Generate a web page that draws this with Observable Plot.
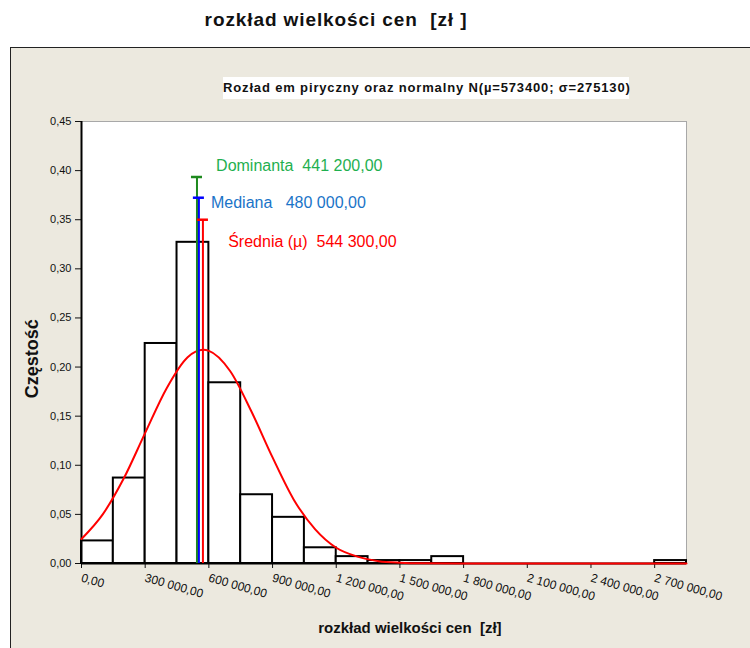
<!DOCTYPE html>
<html>
<head>
<meta charset="utf-8">
<script src="https://cdn.jsdelivr.net/npm/d3@7"></script>
<script src="https://cdn.jsdelivr.net/npm/@observablehq/plot@0.6"></script>
<style>
  body { margin:0; background:#fff; font-family:"Liberation Sans", Arial, sans-serif; }
  #wrap { position:relative; width:750px; height:648px; overflow:hidden; }
  #title { position:absolute; left:0; width:672px; top:9px; text-align:center; font-weight:bold; font-size:19px; letter-spacing:0.9px; color:#111; white-space:pre; }
  #frame { position:absolute; left:10px; top:47px; width:760px; height:620px; background:#ECE9DF; border:1.5px solid #222; box-sizing:border-box; }
  #subtitle { position:absolute; left:223px; top:77px; width:406px; height:22px; line-height:22px; background:#fff; text-align:center; font-weight:bold; font-size:13px; color:#111; letter-spacing:0.85px; white-space:pre; }
  #chart { position:absolute; left:0; top:47px; }
  #chart svg { background:transparent; overflow:visible; }
</style>
</head>
<body>
<div id="wrap">
  <div id="title">rozkład wielkości cen  [zł ]</div>
  <div id="frame"></div>
  <div id="subtitle">Rozład em piryczny oraz normalny N(µ=573400; σ=275130)</div>
  <div id="chart"></div>
</div>
<script>
// Histogram bins (zł) and empirical frequencies
const binStart = [0,150000,300000,450000,600000,750000,900000,1050000,1200000,1350000,1500000,1650000,1800000,1950000,2100000,2250000,2400000,2550000,2700000];
const binEnd   = [150000,300000,450000,600000,750000,900000,1050000,1200000,1350000,1500000,1650000,1800000,1950000,2100000,2250000,2400000,2550000,2700000,2850000];
const freq     = [0.023,0.087,0.224,0.327,0.184,0.070,0.047,0.016,0.007,0.003,0.003,0.007,0,0,0,0,0,0,0.003];

// Normal curve
const curveX = [0,100000,200000,300000,400000,500000,573400,600000,700000,800000,900000,1000000,1100000,1200000,1300000,1400000,1500000,1600000,1800000,2200000,2850000];
const curveY = [0.025,0.050,0.087,0.133,0.178,0.210,0.2175,0.2165,0.196,0.155,0.108,0.065,0.035,0.016,0.007,0.0024,0.0008,0.0002,0,0,0];

// Vertical markers (position as drawn, top height) and their labels
const markerNames = ["Dominanta", "Mediana", "Średnia (µ)"];
const markerX     = [544000, 553000, 572000];
const markerTop   = [0.3935, 0.3724, 0.350];
const markerLabel = ["Dominanta\u00a0\u00a0441 200,00", "Mediana\u00a0\u00a0\u00a0480 000,00", "Średnia (µ)\u00a0\u00a0544 300,00"];
const labelX      = [634000, 610000, 691000];
const labelY      = [0.405, 0.367, 0.3275];
const lineColors  = ["#1e8a1e", "#0000ff", "#ff0000"];
const textColors  = ["#1fb050", "#1a74c8", "#ff0000"];

const xTicks = [0,300000,600000,900000,1200000,1500000,1800000,2100000,2400000,2700000];
const yTicks = [0,0.05,0.10,0.15,0.20,0.25,0.30,0.35,0.40,0.45];

// Axis titles and where they sit (data units)
const yTitle = "Częstość";
const yTitleAt = 0.2085;
const xTitle = "rozkład wielkości cen\u00a0\u00a0[zł]";
const xTitleAt = 1547000;

const pl = d3.formatLocale({decimal:",", thousands:"\u00a0", grouping:[3], currency:["", " zł"]});
const fmt2 = pl.format(",.2f");

const bins = binStart.map((s,i) => ({x1:s, x2:binEnd[i], y:freq[i]}));
const curve = curveX.map((x,i) => ({x, y:curveY[i]}));
const markers = markerNames.map((n,i) => ({name:n, x:markerX[i], top:markerTop[i], label:markerLabel[i], lx:labelX[i], ly:labelY[i], lc:lineColors[i], tc:textColors[i]}));
const capHalf = 26000;

const chart = Plot.plot({
  width: 750,
  height: 601,
  marginLeft: 81,
  marginRight: 64,
  marginTop: 74,
  marginBottom: 85,
  style: {fontFamily: '"Liberation Sans", Arial, sans-serif', fontSize: "11px", color: "#111", background: "transparent"},
  x: {domain: [0, 2850000]},
  y: {domain: [0, 0.45]},
  marks: [
    Plot.frame({fill: "white", stroke: "#a8a8a8"}),
    Plot.axisY({ticks: yTicks, tickFormat: fmt2, tickSize: 6, tickPadding: 4, fontSize: 11, label: null}),
    Plot.axisX({ticks: xTicks, tickFormat: fmt2, tickSize: 5, tickPadding: 9, tickRotate: 16, fontSize: 12, label: null}),
    Plot.text([{t: yTitle, y: yTitleAt}], {text: "t", y: "y", frameAnchor: "left", textAnchor: "middle", dx: -49, rotate: -90, fontSize: 18, fontWeight: "bold", fill: "#111"}),
    Plot.text([{t: xTitle, x: xTitleAt}], {text: "t", x: "x", frameAnchor: "bottom", textAnchor: "middle", dy: 69, fontSize: 15, fontWeight: "bold", fill: "#111"}),
    Plot.rectY(bins, {x1: "x1", x2: "x2", y: "y", fill: "white", stroke: "black", strokeWidth: 2}),
    Plot.ruleX([0], {stroke: "black", strokeWidth: 2}),
    Plot.ruleY([0], {stroke: "black", strokeWidth: 2}),
    Plot.line(curve, {x: "x", y: "y", stroke: "#ff0000", strokeWidth: 2, curve: "monotone-x"}),
    Plot.ruleX(markers, {x: "x", y1: 0, y2: "top", stroke: "lc", strokeWidth: 2}),
    Plot.ruleY(markers, {y: "top", x1: d => d.x - capHalf, x2: d => d.x + capHalf, stroke: "lc", strokeWidth: 2.5}),
    Plot.text(markers, {x: "lx", y: "ly", text: "label", fill: "tc", textAnchor: "start", fontSize: 16})
  ]
});
document.getElementById("chart").appendChild(chart);
</script>
</body>
</html>
